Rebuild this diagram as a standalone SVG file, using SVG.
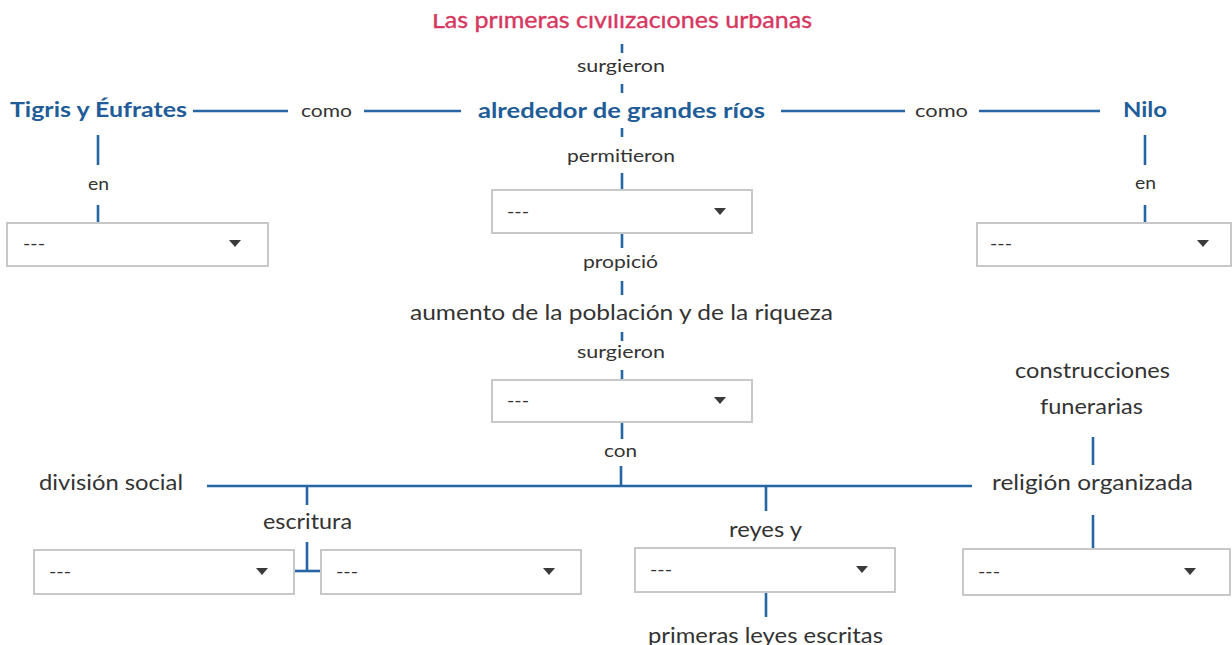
<svg xmlns="http://www.w3.org/2000/svg" width="1232" height="645" viewBox="0 0 1232 645">
<defs>
<style>
.t{font-family:Lato,"Open Sans","Liberation Sans",sans-serif;fill:#333333}
.s{font-size:17px}
.m{font-size:21px}
.b{font-family:Lato,"Open Sans","Liberation Sans",sans-serif;font-size:21px;font-weight:bold;fill:#1f5d99}
.ti{font-family:Lato,"Open Sans","Liberation Sans",sans-serif;font-size:24px;fill:#d6385f;stroke:#d6385f;stroke-width:0.4}
.box rect{fill:#ffffff;stroke:#c8c8c8;stroke-width:2}
.box text{font-family:Lato,"Open Sans","Liberation Sans",sans-serif;font-size:17px;fill:#333333}
.box polygon{fill:#3a3a3a}
.c line{stroke:#2566a3;stroke-width:2.6;fill:none}
</style>
<clipPath id="topclip"><rect x="0" y="14" width="1232" height="40"/></clipPath>
</defs>
<rect width="1232" height="645" fill="#ffffff"/>

<g id="connectors" class="c">
<line x1="622" y1="44" x2="622" y2="53"/>
<line x1="622" y1="84" x2="622" y2="93"/>
<line x1="193" y1="111" x2="288" y2="111"/>
<line x1="364" y1="111" x2="461" y2="111"/>
<line x1="781" y1="111" x2="905" y2="111"/>
<line x1="979" y1="111" x2="1100" y2="111"/>
<line x1="98" y1="135" x2="98" y2="165"/>
<line x1="98" y1="205" x2="98" y2="223"/>
<line x1="1145" y1="135" x2="1145" y2="165"/>
<line x1="1145" y1="205" x2="1145" y2="223"/>
<line x1="622" y1="128" x2="622" y2="137"/>
<line x1="622" y1="173" x2="622" y2="190"/>
<line x1="622" y1="233" x2="622" y2="248"/>
<line x1="622" y1="281" x2="622" y2="295"/>
<line x1="622" y1="332" x2="622" y2="341"/>
<line x1="622" y1="370" x2="622" y2="380"/>
<line x1="622" y1="422" x2="622" y2="439"/>
<line x1="621" y1="466" x2="621" y2="487"/>
<line x1="207" y1="486" x2="972" y2="486"/>
<line x1="307" y1="486" x2="307" y2="505"/>
<line x1="307" y1="542" x2="307" y2="572"/>
<line x1="294" y1="571" x2="321" y2="571"/>
<line x1="766" y1="486" x2="766" y2="511"/>
<line x1="766" y1="592" x2="766" y2="617"/>
<line x1="1093" y1="437" x2="1093" y2="465"/>
<line x1="1093" y1="515" x2="1093" y2="549"/>
</g>

<g id="title"><text class="ti" x="432" y="28" textLength="380" lengthAdjust="spacingAndGlyphs" clip-path="url(#topclip)">Las primeras civilizaciones urbanas</text></g>

<g id="lbl-surgieron1"><text class="t s" x="577" y="72" textLength="88" lengthAdjust="spacingAndGlyphs">surgieron</text></g>
<g id="tigris"><text class="b" x="10" y="117" textLength="177" lengthAdjust="spacingAndGlyphs">Tigris y Éufrates</text></g>
<g id="lbl-como1"><text class="t s" x="301" y="117" textLength="51" lengthAdjust="spacingAndGlyphs">como</text></g>
<g id="rios"><text class="b" x="478" y="118" textLength="287" lengthAdjust="spacingAndGlyphs">alrededor de grandes ríos</text></g>
<g id="lbl-como2"><text class="t s" x="915" y="117" textLength="53" lengthAdjust="spacingAndGlyphs">como</text></g>
<g id="nilo"><text class="b" x="1123" y="117" textLength="44" lengthAdjust="spacingAndGlyphs">Nilo</text></g>
<g id="lbl-en1"><text class="t s" x="88" y="190" textLength="21" lengthAdjust="spacingAndGlyphs">en</text></g>
<g id="lbl-en2"><text class="t s" x="1135" y="189" textLength="21" lengthAdjust="spacingAndGlyphs">en</text></g>
<g id="lbl-permitieron"><text class="t s" x="567" y="162" textLength="108" lengthAdjust="spacingAndGlyphs">permitieron</text></g>

<g id="box1" class="box"><rect x="7" y="223" width="261" height="43"/><text x="23" y="250" textLength="22" lengthAdjust="spacingAndGlyphs">---</text><polygon points="229,240 241,240 235,247"/></g>
<g id="box2" class="box"><rect x="977" y="223" width="254" height="43"/><text x="990" y="250" textLength="22" lengthAdjust="spacingAndGlyphs">---</text><polygon points="1197,240 1209,240 1203,247"/></g>
<g id="box3" class="box"><rect x="492" y="190" width="260" height="43"/><text x="507" y="218" textLength="22" lengthAdjust="spacingAndGlyphs">---</text><polygon points="714,208 726,208 720,215"/></g>

<g id="lbl-propicio"><text class="t s" x="583" y="268" textLength="75" lengthAdjust="spacingAndGlyphs">propició</text></g>
<g id="aumento"><text class="t m" x="410" y="320" textLength="423" lengthAdjust="spacingAndGlyphs">aumento de la población y de la riqueza</text></g>
<g id="lbl-surgieron2"><text class="t s" x="577" y="358" textLength="88" lengthAdjust="spacingAndGlyphs">surgieron</text></g>

<g id="box4" class="box"><rect x="492" y="380" width="260" height="42"/><text x="507" y="407" textLength="22" lengthAdjust="spacingAndGlyphs">---</text><polygon points="714,397 726,397 720,404"/></g>

<g id="lbl-con"><text class="t s" x="604" y="457" textLength="33" lengthAdjust="spacingAndGlyphs">con</text></g>
<g id="construcciones"><text class="t m" x="1015" y="378" textLength="155" lengthAdjust="spacingAndGlyphs">construcciones</text><text class="t m" x="1040" y="414" textLength="103" lengthAdjust="spacingAndGlyphs">funerarias</text></g>
<g id="division"><text class="t m" x="39" y="490" textLength="144" lengthAdjust="spacingAndGlyphs">división social</text></g>
<g id="religion"><text class="t m" x="992" y="490" textLength="201" lengthAdjust="spacingAndGlyphs">religión organizada</text></g>
<g id="escritura"><text class="t m" x="263" y="529" textLength="89" lengthAdjust="spacingAndGlyphs">escritura</text></g>
<g id="reyes"><text class="t m" x="729" y="537" textLength="73" lengthAdjust="spacingAndGlyphs">reyes y</text></g>

<g id="box5" class="box"><rect x="34" y="550" width="260" height="44"/><text x="49" y="578" textLength="22" lengthAdjust="spacingAndGlyphs">---</text><polygon points="256,568 268,568 262,575"/></g>
<g id="box6" class="box"><rect x="321" y="550" width="260" height="44"/><text x="336" y="578" textLength="22" lengthAdjust="spacingAndGlyphs">---</text><polygon points="543,568 555,568 549,575"/></g>
<g id="box7" class="box"><rect x="635" y="548" width="260" height="44"/><text x="650" y="576" textLength="22" lengthAdjust="spacingAndGlyphs">---</text><polygon points="856,566 868,566 862,573"/></g>
<g id="box8" class="box"><rect x="963" y="549" width="267" height="46"/><text x="978" y="578" textLength="22" lengthAdjust="spacingAndGlyphs">---</text><polygon points="1184,568 1196,568 1190,575"/></g>

<g id="leyes"><text class="t m" x="648" y="643" textLength="235" lengthAdjust="spacingAndGlyphs">primeras leyes escritas</text></g>
</svg>
